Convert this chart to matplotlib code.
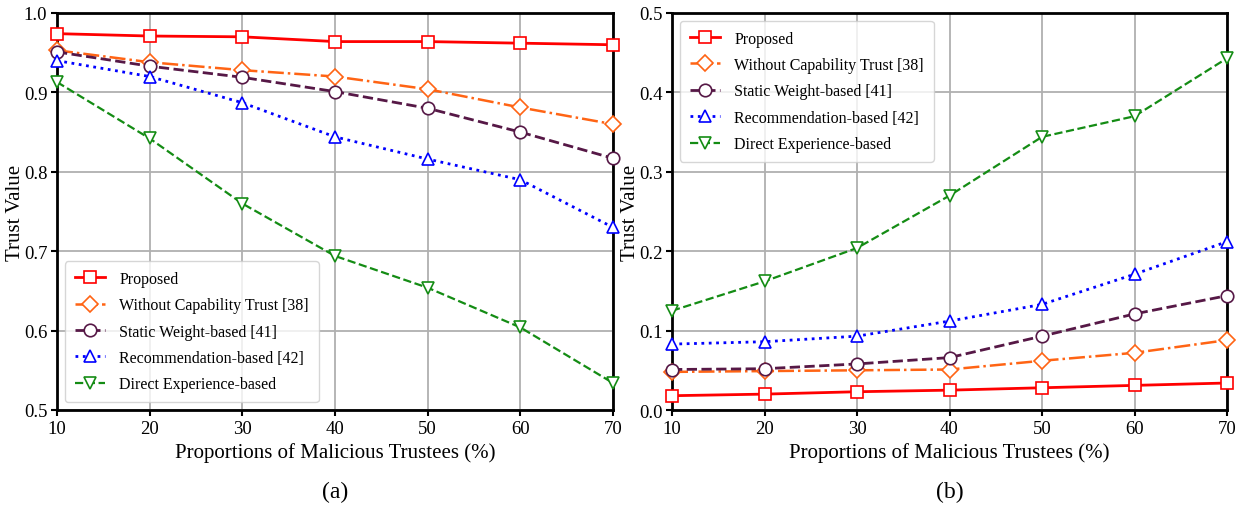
import numpy as np
import matplotlib.pyplot as plt

plt.rcParams['font.family'] = ['Liberation Serif', 'DejaVu Serif']
plt.rcParams['mathtext.fontset'] = 'stix'

x = [10, 20, 30, 40, 50, 60, 70]
labels = ["Proposed", "Without Capability Trust [38]", "Static Weight-based [41]",
          "Recommendation-based [42]", "Direct Experience-based"]

# (a)
a_proposed = [0.974, 0.971, 0.970, 0.964, 0.964, 0.962, 0.960]
a_without = [0.953, 0.938, 0.928, 0.920, 0.904, 0.881, 0.860]
a_static = [0.951, 0.933, 0.919, 0.901, 0.880, 0.850, 0.817]
a_recomm = [0.940, 0.920, 0.887, 0.844, 0.816, 0.790, 0.730]
a_direct = [0.913, 0.842, 0.760, 0.694, 0.654, 0.604, 0.534]

# (b)
b_proposed = [0.018, 0.020, 0.023, 0.025, 0.028, 0.031, 0.034]
b_without = [0.048, 0.049, 0.050, 0.051, 0.062, 0.072, 0.088]
b_static = [0.051, 0.052, 0.058, 0.066, 0.093, 0.121, 0.144]
b_recomm = [0.083, 0.086, 0.093, 0.112, 0.133, 0.171, 0.212]
b_direct = [0.125, 0.162, 0.204, 0.270, 0.344, 0.370, 0.443]

styles = [
    dict(color='#ff0000', ls='-', marker='s', lw=2.0, ms=9),
    dict(color='#ff6414', ls='-.', marker='D', lw=1.8, ms=8),
    dict(color='#561846', ls='--', marker='o', lw=2.0, ms=9),
    dict(color='#0000ff', ls=':', marker='^', lw=2.0, ms=8.5),
    dict(color='#148c14', ls='--', marker='v', lw=1.6, ms=8.5),
]

fig = plt.figure(figsize=(12.36, 5.10), dpi=100)
ax1 = fig.add_axes([57/1236, 1-411/510, 556/1236, 397/510])
ax2 = fig.add_axes([672/1236, 1-411/510, 555/1236, 397/510])

def draw(ax, series, ylim, yticks, loc):
    for ys, st, lab in zip(series, styles, labels):
        ax.plot(x, ys, color=st['color'], ls=st['ls'], lw=st['lw'], marker=st['marker'],
                ms=st['ms'], mfc='white', mec=st['color'], mew=1.2, label=lab,
                clip_on=False, zorder=3)
    ax.set_xlim(10, 70)
    ax.set_ylim(*ylim)
    ax.set_xticks(x)
    ax.set_yticks(yticks)
    ax.set_yticklabels(["%.1f" % t for t in yticks])
    ax.grid(True, color='#b0b0b0', lw=1.3)
    ax.set_axisbelow(True)
    for s in ax.spines.values():
        s.set_linewidth(2.0)
    ax.tick_params(labelsize=13.5, width=1.5, length=4, pad=3)
    ax.set_xlabel("Proportions of Malicious Trustees (%)", fontsize=15)
    ax.set_ylabel("Trust Value", fontsize=15)
    ax.yaxis.set_label_coords(-0.057, 0.5)
    leg = ax.legend(loc=loc, fontsize=11.5, handlelength=1.9, frameon=True, fancybox=True,
                    borderpad=0.6, labelspacing=0.65, handletextpad=0.9)
    leg.get_frame().set_edgecolor('#cccccc')

draw(ax1, [a_proposed, a_without, a_static, a_recomm, a_direct], (0.5, 1.0),
     [0.5, 0.6, 0.7, 0.8, 0.9, 1.0], 'lower left')
draw(ax2, [b_proposed, b_without, b_static, b_recomm, b_direct], (0.0, 0.5),
     [0.0, 0.1, 0.2, 0.3, 0.4, 0.5], 'upper left')

fig.text(335/1236, 1-492/510, "(a)", fontsize=17, ha='center', va='center')
fig.text(950/1236, 1-492/510, "(b)", fontsize=17, ha='center', va='center')

fig.savefig("out.png", dpi=100)
